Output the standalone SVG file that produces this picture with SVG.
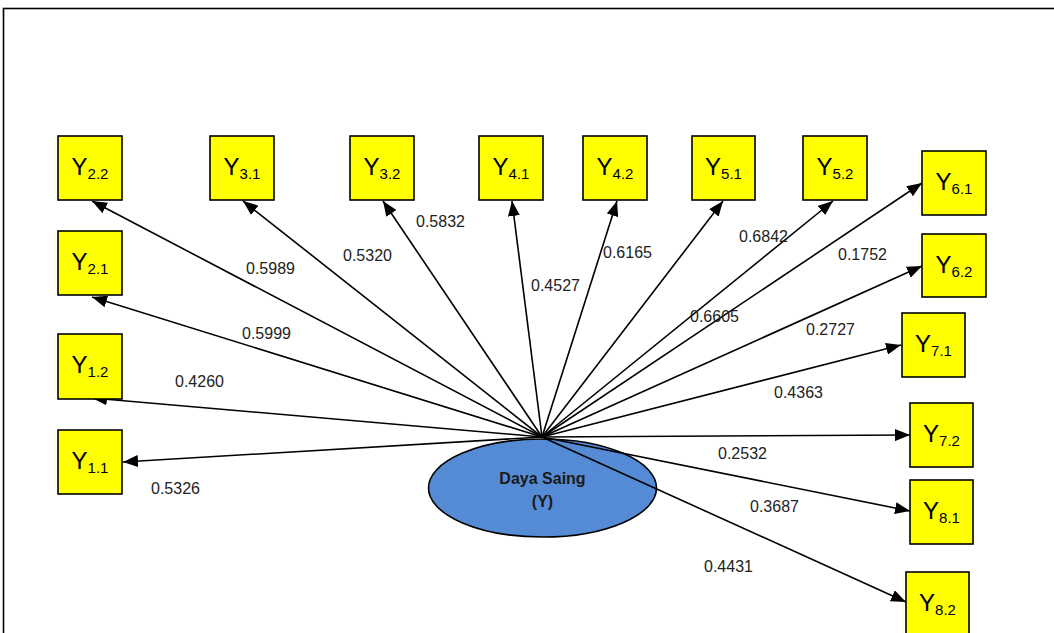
<svg xmlns="http://www.w3.org/2000/svg" width="1054" height="633" viewBox="0 0 1054 633">
  <style>
    .box { fill: #FFFF00; stroke: #000; stroke-width: 1.6; }
    .lbl { font-family: "Liberation Sans", Arial, sans-serif; font-size: 24px; fill: #000; text-anchor: middle; }
    .sub { font-size: 15px; }
    .val { font-family: "Liberation Sans", Arial, sans-serif; font-size: 16px; fill: #222; }
    .conn line { stroke: #000; stroke-width: 1.6; marker-end: url(#arrow); }
    .hub { fill: #558BD4; stroke: #000; stroke-width: 1.6; }
    .hubtxt { font-family: "Liberation Sans", Arial, sans-serif; font-size: 16px; font-weight: bold; fill: #1a1a1a; text-anchor: middle; }
  </style>
  <defs>
    <marker id="arrow" markerUnits="userSpaceOnUse" markerWidth="15" markerHeight="12" refX="15" refY="6" orient="auto">
      <path d="M0,0 L15,6 L0,12 z" fill="#000"/>
    </marker>
  </defs>

  <rect width="1054" height="633" fill="#fff"/>
  <!-- frame -->
  <rect x="3.5" y="8.5" width="1100" height="700" fill="none" stroke="#000" stroke-width="1.6"/>

  <!-- central construct -->
  <g id="daya-saing">
    <ellipse class="hub" cx="542.5" cy="488" rx="114" ry="49"/>
    <text class="hubtxt" x="542.5" y="484">Daya Saing</text>
    <text class="hubtxt" x="542.5" y="507">(Y)</text>
  </g>

  <!-- loadings -->
  <g id="connectors" class="conn">
    <line x1="542" y1="437" x2="92" y2="201"/>
    <line x1="542" y1="437" x2="243" y2="201"/>
    <line x1="542" y1="437" x2="383" y2="201"/>
    <line x1="542" y1="437" x2="512" y2="201"/>
    <line x1="542" y1="437" x2="617" y2="201"/>
    <line x1="542" y1="437" x2="723" y2="201"/>
    <line x1="542" y1="437" x2="833" y2="201"/>
    <line x1="542" y1="437" x2="922" y2="183"/>
    <line x1="542" y1="437" x2="922" y2="266"/>
    <line x1="542" y1="437" x2="901" y2="345"/>
    <line x1="542" y1="437" x2="910" y2="435"/>
    <line x1="542" y1="437" x2="910" y2="511"/>
    <line x1="542" y1="437" x2="906" y2="602"/>
    <line x1="542" y1="437" x2="92" y2="297"/>
    <line x1="542" y1="437" x2="92" y2="398"/>
    <line x1="542" y1="437" x2="123" y2="462"/>
  </g>

  <g id="values">
    <text class="val" x="246" y="274">0.5989</text>
    <text class="val" x="343" y="261">0.5320</text>
    <text class="val" x="416" y="227">0.5832</text>
    <text class="val" x="531" y="291">0.4527</text>
    <text class="val" x="603" y="258">0.6165</text>
    <text class="val" x="739" y="242">0.6842</text>
    <text class="val" x="838" y="260">0.1752</text>
    <text class="val" x="690" y="322">0.6605</text>
    <text class="val" x="806" y="335">0.2727</text>
    <text class="val" x="774" y="398">0.4363</text>
    <text class="val" x="718" y="459">0.2532</text>
    <text class="val" x="750" y="512">0.3687</text>
    <text class="val" x="704" y="572">0.4431</text>
    <text class="val" x="242" y="339">0.5999</text>
    <text class="val" x="175" y="387">0.4260</text>
    <text class="val" x="151" y="494">0.5326</text>
  </g>

  <!-- indicators -->
  <g id="y22"><rect class="box" x="58" y="136" width="64" height="64"/><text class="lbl" x="90" y="175">Y<tspan class="sub" dy="4">2.2</tspan></text></g>
  <g id="y31"><rect class="box" x="210" y="136" width="64" height="64"/><text class="lbl" x="242" y="175">Y<tspan class="sub" dy="4">3.1</tspan></text></g>
  <g id="y32"><rect class="box" x="350" y="136" width="64" height="64"/><text class="lbl" x="382" y="175">Y<tspan class="sub" dy="4">3.2</tspan></text></g>
  <g id="y41"><rect class="box" x="479" y="136" width="64" height="64"/><text class="lbl" x="511" y="175">Y<tspan class="sub" dy="4">4.1</tspan></text></g>
  <g id="y42"><rect class="box" x="583" y="136" width="64" height="64"/><text class="lbl" x="615" y="175">Y<tspan class="sub" dy="4">4.2</tspan></text></g>
  <g id="y51"><rect class="box" x="692" y="136" width="63" height="64"/><text class="lbl" x="723.5" y="175">Y<tspan class="sub" dy="4">5.1</tspan></text></g>
  <g id="y52"><rect class="box" x="803" y="136" width="64" height="64"/><text class="lbl" x="835" y="175">Y<tspan class="sub" dy="4">5.2</tspan></text></g>
  <g id="y61"><rect class="box" x="922" y="151" width="64" height="64"/><text class="lbl" x="954" y="190">Y<tspan class="sub" dy="4">6.1</tspan></text></g>
  <g id="y62"><rect class="box" x="922" y="234" width="64" height="63"/><text class="lbl" x="954" y="273">Y<tspan class="sub" dy="4">6.2</tspan></text></g>
  <g id="y71"><rect class="box" x="902" y="313" width="63" height="64"/><text class="lbl" x="933.5" y="352">Y<tspan class="sub" dy="4">7.1</tspan></text></g>
  <g id="y72"><rect class="box" x="910" y="403" width="63" height="64"/><text class="lbl" x="941.5" y="442">Y<tspan class="sub" dy="4">7.2</tspan></text></g>
  <g id="y81"><rect class="box" x="910" y="480" width="63" height="64"/><text class="lbl" x="941.5" y="519">Y<tspan class="sub" dy="4">8.1</tspan></text></g>
  <g id="y82"><rect class="box" x="906" y="572" width="63" height="64"/><text class="lbl" x="937.5" y="611">Y<tspan class="sub" dy="4">8.2</tspan></text></g>
  <g id="y21"><rect class="box" x="58" y="231" width="64" height="64"/><text class="lbl" x="90" y="270">Y<tspan class="sub" dy="4">2.1</tspan></text></g>
  <g id="y12"><rect class="box" x="58" y="334" width="64" height="65"/><text class="lbl" x="90" y="373">Y<tspan class="sub" dy="4">1.2</tspan></text></g>
  <g id="y11"><rect class="box" x="58" y="430" width="64" height="64"/><text class="lbl" x="90" y="469">Y<tspan class="sub" dy="4">1.1</tspan></text></g>
</svg>
